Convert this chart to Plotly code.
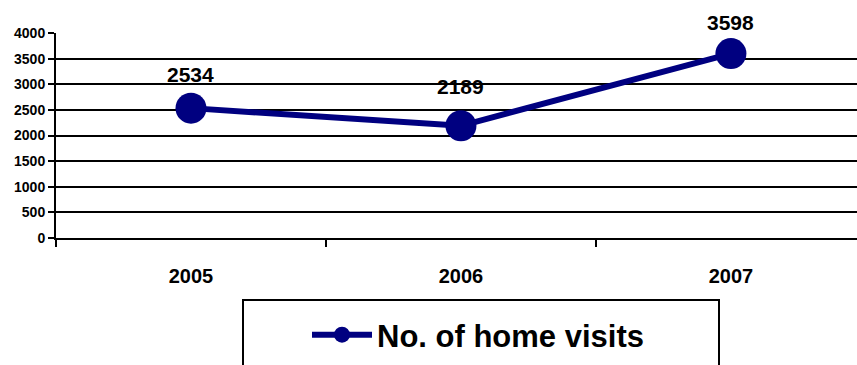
import plotly.graph_objects as go

years = ["2005", "2006", "2007"]
visits = [2534, 2189, 3598]
y_ticks = [0, 500, 1000, 1500, 2000, 2500, 3000, 3500, 4000]

NAVY = "#000080"
FONT = "Liberation Sans, Arial, sans-serif"
label_offsets = [34, 39, 31]  # pixel offsets of value labels above points (style)

xpos = list(range(len(years)))

fig = go.Figure()
fig.add_trace(go.Scatter(
    x=xpos, y=visits, mode="lines+markers", name="<b>No. of home visits</b>",
    line=dict(color=NAVY, width=6),
    marker=dict(color=NAVY, size=31),
    cliponaxis=False,
))

for xi, v, off in zip(xpos, visits, label_offsets):
    fig.add_annotation(x=xi, y=v, text=f"<b>{v}</b>", showarrow=False,
                       yshift=off, font=dict(family=FONT, size=21, color="black"))

# legend frame
fig.add_shape(type="rect", xref="paper", yref="paper",
              x0=(243 - 56) / 801, x1=(719 - 56) / 801,
              y0=(238 - 380) / 205, y1=(238 - 300) / 205,
              line=dict(color="black", width=2), fillcolor="rgba(0,0,0,0)")

fig.update_layout(
    width=857, height=365,
    margin=dict(l=56, r=0, t=33, b=127),
    paper_bgcolor="white", plot_bgcolor="white",
    font=dict(family=FONT, color="black"),
    showlegend=True,
    legend=dict(x=(307 - 56) / 801, y=(238 - 335) / 205, xanchor="left", yanchor="middle",
                font=dict(family=FONT, size=31, color="black"),
                borderwidth=0, bgcolor="rgba(0,0,0,0)", itemsizing="trace",
                itemwidth=60),
    xaxis=dict(
        range=[-0.5, 2.467], tickvals=xpos, ticktext=[f"<b>{y}</b>" for y in years],
        ticks="outside", ticklen=19, tickcolor="rgba(0,0,0,0)",
        tickfont=dict(family=FONT, size=20, color="black"),
        showgrid=False, zeroline=False, showline=True, linecolor="black", linewidth=2,
        minor=dict(ticks="outside", tick0=-0.5, dtick=1, ticklen=7, tickwidth=2,
                   tickcolor="black", showgrid=False),
    ),
    yaxis=dict(
        range=[0, 4000], tickvals=y_ticks, ticktext=[f"<b>{t}</b>" for t in y_ticks],
        ticks="outside", ticklen=6, tickwidth=2, tickcolor="black",
        tickfont=dict(family=FONT, size=14, color="black"),
        showgrid=True, gridcolor="black", gridwidth=2,
        zeroline=False, showline=True, linecolor="black", linewidth=2,
    ),
)

fig.write_html("out.html")
